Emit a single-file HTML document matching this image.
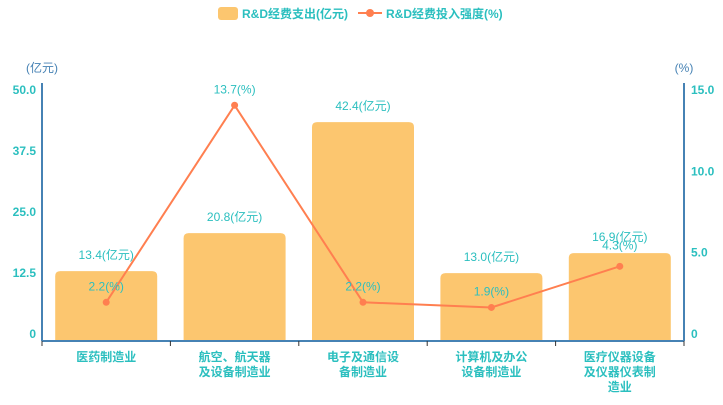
<!DOCTYPE html>
<html><head><meta charset="utf-8"><style>
body{margin:0;background:#fff;}
svg text{font-family:"Liberation Sans","Noto Sans CJK SC",sans-serif;}
</style></head><body>
<svg id="c" width="723" height="400" xmlns="http://www.w3.org/2000/svg">
<g>
<rect x="218" y="7" width="20" height="13" rx="3" fill="#fcc66f"/>
<text x="242" y="18" font-size="12" font-weight="bold" fill="#2bbfbf">R&amp;D经费支出(亿元)</text>
<line x1="358" y1="13" x2="382" y2="13" stroke="#ff7f50" stroke-width="2"/>
<circle cx="370" cy="13" r="4" fill="#ff7f50"/>
<text x="386" y="18" font-size="12" font-weight="bold" fill="#2bbfbf">R&amp;D经费投入强度(%)</text>
</g>
<text x="42" y="72" font-size="12" fill="#4682b4" text-anchor="middle">(亿元)</text>
<text x="684" y="72" font-size="12" fill="#4682b4" text-anchor="middle">(%)</text>
<g id="plot"></g>
</svg>
<script>
const categories=[["医药制造业"],["航空、航天器","及设备制造业"],["电子及通信设","备制造业"],["计算机及办公","设备制造业"],["医疗仪器设备","及仪器仪表制","造业"]];
const spend=[13.4,20.8,42.4,13.0,16.9];
const intensity=[2.2,13.7,2.2,1.9,4.3];
const leftTicks=[0,12.5,25,37.5,50];
const leftTickLabels=["0","12.5","25.0","37.5","50.0"];
const rightTicks=[0,5,10,15];
const rightTickLabels=["0","5.0","10.0","15.0"];
const NS="http://www.w3.org/2000/svg";
const g=document.getElementById('plot');
const X0=42,X1=684,Y0=340,YT=83;
const band=(X1-X0)/categories.length;
const xc=i=>X0+band*(i+0.5);
const yL=v=>Y0-(v/50)*(Y0-YT);
const yR=v=>Y0-(v/15)*(Y0-YT);
const labL=v=>334-(v/50)*244;
const labR=v=>334-(v/15)*244;
function mk(t,a,txt){const e=document.createElementNS(NS,t);for(const k in a)e.setAttribute(k,a[k]);if(txt!==undefined)e.textContent=txt;g.appendChild(e);return e;}
spend.forEach((v,i)=>{
 const e=mk('path',{d:(()=>{const x=xc(i)-51,w=102,y=yL(v),h=Y0-y,r=5;return `M${x},${Y0}V${y+r}Q${x},${y} ${x+r},${y}H${x+w-r}Q${x+w},${y} ${x+w},${y+r}V${Y0}Z`;})(),fill:'#fcc66f'});
 
 
});
const pts=intensity.map((v,i)=>xc(i)+','+yR(v)).join(' ');
const ln=mk('polyline',{points:pts,fill:'none',stroke:'#ff7f50','stroke-width':2});


intensity.forEach((v,i)=>{
 const c=mk('circle',{cx:xc(i),cy:yR(v),r:3.5,fill:'#ff7f50'});
 
 
});
spend.forEach((v,i)=>{
 const t=mk('text',{x:xc(i),y:yL(v)-12,'font-size':12,fill:'#2bbfbf','text-anchor':'middle'},v.toFixed(1)+'(亿元)');
 
 
});
intensity.forEach((v,i)=>{
 let y=yR(v)-12; if(i===4) y=yR(v)-17;
 const t=mk('text',{x:xc(i),y:y,'font-size':12,fill:'#2bbfbf','text-anchor':'middle'},v.toFixed(1)+'(%)');
 
 
});
const a1=mk('line',{x1:X0,y1:YT,x2:X0,y2:Y0+1,stroke:'#4682b4','stroke-width':2});


const a2=mk('line',{x1:X1,y1:YT,x2:X1,y2:Y0+1,stroke:'#4682b4','stroke-width':2});


const a3=mk('line',{x1:X0,y1:Y0+1,x2:X1,y2:Y0+1,stroke:'#4682b4','stroke-width':2});


for(let i=0;i<=categories.length;i++){mk('line',{x1:X0+band*i,y1:Y0+1,x2:X0+band*i,y2:Y0+6,stroke:'#333','stroke-width':1});}
leftTicks.forEach((v,i)=>{
 const t=mk('text',{x:36,y:labL(v)+4,'font-size':12,'font-weight':'bold',fill:'#2bbfbf','text-anchor':'end'},leftTickLabels[i]);
 
 
});
rightTicks.forEach((v,i)=>{
 const t=mk('text',{x:691,y:labR(v)+4,'font-size':12,'font-weight':'bold',fill:'#2bbfbf'},rightTickLabels[i]);
 
 
});
categories.forEach((lines,i)=>{
 lines.forEach((s,j)=>{
  const t=mk('text',{x:xc(i),y:361+j*15,'font-size':12,'font-weight':'bold',fill:'#2bbfbf','text-anchor':'middle'},s);
  
  
 });
});
</script>
</body></html>
